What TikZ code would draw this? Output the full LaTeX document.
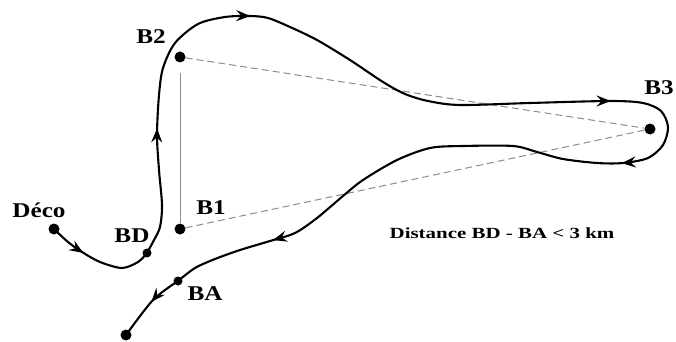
\documentclass[tikz,border=0pt]{standalone}
\usepackage{fontspec}
\setmainfont{Liberation Serif}
\usetikzlibrary{arrows.meta,decorations.markings}
\tikzset{rtip/.tip={Stealth[length=14pt,width=11pt,inset=5pt]}}
\begin{document}
\begin{tikzpicture}[x=1pt,y=-1pt,
  dot/.style={circle,fill=black,inner sep=0pt,minimum size=11pt},
  sdot/.style={circle,fill=black,inner sep=0pt,minimum size=9pt},
  lbl/.style={font=\fontsize{21}{21}\selectfont\bfseries, inner sep=0pt},
  note/.style={font=\fontsize{15.5}{15.5}\selectfont\bfseries, inner sep=0pt},
  route/.style={line width=2.1pt, line join=round, line cap=round},
  dashline/.style={black!45, line width=1pt, dash pattern=on 7pt off 4pt},
  midtip/.style={postaction={decorate},
    decoration={markings, mark=at position #1 with {\arrow{rtip}}}},
]
\useasboundingbox (0,0) rectangle (676,342);
% points
\node[dot] (deco) at (54,229) {};
\node[sdot] (BD) at (147,253) {};
\node[dot] (B1) at (180,229) {};
\node[dot] (B2) at (180,57) {};
\node[dot] (B3) at (650,129) {};
\node[sdot] (BA) at (178,281) {};
\node[dot] (fin) at (126,335) {};
% labels
\node[lbl] (ldeco) at (39,210) {\scalebox{1.2}[1]{Déco}};
\node[lbl] (lBD) at (132,236) {\scalebox{1.2}[1]{BD}};
\node[lbl] (lB1) at (211,208) {\scalebox{1.2}[1]{B1}};
\node[lbl] (lB2) at (151,37) {\scalebox{1.2}[1]{B2}};
\node[lbl] (lB3) at (659,88) {\scalebox{1.2}[1]{B3}};
\node[lbl] (lBA) at (205,294) {\scalebox{1.2}[1]{BA}};
\node[note] (dist) at (502,233) {\scalebox{1.35}[1]{Distance BD - BA < 3 km}};
% triangle
\draw[dashline] (B2) -- (B3);
\draw[dashline] (B1) -- (B3);
\draw[black!45, line width=0.8pt, shorten <=10pt] (B2) -- (B1);
% route
\draw[route, midtip=38pt] plot[smooth] coordinates {(deco.center) (68,242) (82,252) (100,262) (122,268) (138,262) (BD.center)};
\draw[route, postaction={decorate}, decoration={markings,
    mark=at position 128pt with {\arrow{rtip}},
    mark=at position 300pt with {\arrow{rtip}},
    mark=at position 682pt with {\arrow{rtip}},
    mark=at position 818pt with {\arrow{rtip}},
    mark=at position 1196pt with {\arrow{rtip}}}]
  plot[smooth] coordinates {(BD.center) (154,240) (160,227) (162,205) (159,170) (157,135) (159,95) (163,68) (175,43) (198,24) (225,17) (250,16) (268,18) (290,27) (317,40) (350,60) (383,82) (405,94) (428,101) (460,105) (530,103) (610,101) (643,103) (661,111) (668,127) (663,145) (648,158) (623,163) (597,163) (563,159) (537,152) (513,146) (463,146) (430,148) (397,160) (363,180) (343,196) (317,218) (295,233) (270,241) (240,250) (215,259) (195,268) (BA.center)};
\draw[route, midtip=34pt] plot[smooth] coordinates {(BA.center) (153,300) (126,335)};
\end{tikzpicture}
\end{document}
